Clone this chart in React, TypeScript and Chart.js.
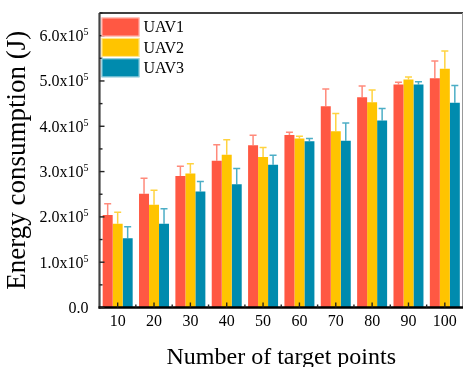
import { useEffect, useRef } from "react";
import { Chart, registerables } from "chart.js";

Chart.register(...registerables);

const categories = ["10", "20", "30", "40", "50", "60", "70", "80", "90", "100"];
const seriesNames = ["UAV1", "UAV2", "UAV3"];
const seriesColors = ["#FF5843", "#FFC400", "#008BAE"];
const errColors = ["rgba(255,88,67,0.7)", "rgba(255,196,0,0.75)", "rgba(0,139,174,0.7)"];

const uav1 = [2.04e5, 2.51e5, 2.9e5, 3.24e5, 3.58e5, 3.81e5, 4.44e5, 4.64e5, 4.92e5, 5.06e5];
const uav2 = [1.85e5, 2.27e5, 2.96e5, 3.37e5, 3.32e5, 3.73e5, 3.89e5, 4.53e5, 5.03e5, 5.27e5];
const uav3 = [1.53e5, 1.85e5, 2.56e5, 2.72e5, 3.15e5, 3.67e5, 3.68e5, 4.13e5, 4.92e5, 4.52e5];

const uav1Err = [0.25e5, 0.34e5, 0.22e5, 0.35e5, 0.22e5, 0.06e5, 0.38e5, 0.25e5, 0.05e5, 0.38e5];
const uav2Err = [0.25e5, 0.32e5, 0.21e5, 0.33e5, 0.21e5, 0.05e5, 0.39e5, 0.27e5, 0.06e5, 0.39e5];
const uav3Err = [0.25e5, 0.33e5, 0.22e5, 0.35e5, 0.21e5, 0.06e5, 0.39e5, 0.26e5, 0.06e5, 0.38e5];

const yTickValues = [0, 1e5, 2e5, 3e5, 4e5, 5e5, 6e5];
const yTickMantissas = ["0.0", "1.0", "2.0", "3.0", "4.0", "5.0", "6.0"];
const yMinorValues = [0.5e5, 1.5e5, 2.5e5, 3.5e5, 4.5e5, 5.5e5, 6.5e5];

const FONT = "'Liberation Serif', 'Times New Roman', serif";

const errors = [uav1Err, uav2Err, uav3Err];

const decorPlugin = {
  id: "decor",
  afterDatasetsDraw(chart: any) {
    const ctx = chart.ctx;
    const ys = chart.scales.y;
    ctx.save();
    chart.data.datasets.forEach((ds: any, di: number) => {
      const meta = chart.getDatasetMeta(di);
      meta.data.forEach((el: any, i: number) => {
        const v = ds.data[i];
        const e = errors[di][i];
        const yTop = ys.getPixelForValue(v + e);
        const x = el.x;
        ctx.strokeStyle = errColors[di];
        ctx.lineWidth = 1.5;
        ctx.beginPath();
        ctx.moveTo(x, el.y);
        ctx.lineTo(x, yTop);
        ctx.moveTo(x - 3.5, yTop);
        ctx.lineTo(x + 3.5, yTop);
        ctx.stroke();
      });
    });
    ctx.restore();
  },
  afterDraw(chart: any) {
    const ctx = chart.ctx;
    const { left, right, top, bottom } = chart.chartArea;
    const ys = chart.scales.y;
    const xs = chart.scales.x;
    ctx.save();
    ctx.strokeStyle = "#000";
    ctx.lineWidth = 1.3;
    ctx.beginPath();
    ctx.moveTo(left, top);
    ctx.lineTo(right, top);
    ctx.stroke();
    ctx.strokeStyle = "#999";
    ctx.lineWidth = 1;
    ctx.beginPath();
    ctx.moveTo(right - 0.5, top);
    ctx.lineTo(right - 0.5, bottom);
    ctx.stroke();
    ctx.strokeStyle = "#444";
    ctx.lineWidth = 2.2;
    ctx.beginPath();
    ctx.moveTo(left, top);
    ctx.lineTo(left, bottom + 1);
    ctx.stroke();
    ctx.strokeStyle = "#000";
    ctx.lineWidth = 2.4;
    ctx.beginPath();
    ctx.moveTo(left - 1, bottom);
    ctx.lineTo(right, bottom);
    ctx.stroke();
    ctx.strokeStyle = "#222";
    ctx.lineWidth = 1.4;
    yTickValues.forEach((v) => {
      const y = ys.getPixelForValue(v);
      ctx.beginPath();
      ctx.moveTo(left, y);
      ctx.lineTo(left + 5, y);
      ctx.stroke();
    });
    yMinorValues.forEach((v) => {
      const y = ys.getPixelForValue(v);
      ctx.beginPath();
      ctx.moveTo(left, y);
      ctx.lineTo(left + 3, y);
      ctx.stroke();
    });
    const n = categories.length;
    for (let i = 0; i < n; i++) {
      const x = xs.getPixelForValue(i);
      ctx.beginPath();
      ctx.moveTo(x, bottom);
      ctx.lineTo(x, bottom - 5);
      ctx.stroke();
      if (i > 0) {
        const xb = (xs.getPixelForValue(i - 1) + x) / 2;
        ctx.beginPath();
        ctx.moveTo(xb, bottom);
        ctx.lineTo(xb, bottom - 3);
        ctx.stroke();
      }
    }
    ctx.fillStyle = "#000";
    ctx.textBaseline = "alphabetic";
    yTickValues.forEach((v, i) => {
      const y = ys.getPixelForValue(v);
      const base = y + 5.4;
      const rightX = left - 11;
      if (v === 0) {
        ctx.font = `16px ${FONT}`;
        ctx.textAlign = "right";
        ctx.fillText(yTickMantissas[i], rightX, base);
      } else {
        ctx.font = `10px ${FONT}`;
        const supW = ctx.measureText("5").width;
        ctx.textAlign = "right";
        ctx.fillText("5", rightX, base - 6);
        ctx.font = `16px ${FONT}`;
        ctx.fillText(yTickMantissas[i] + "x10", rightX - supW, base);
      }
    });
    const boxX = left + 2;
    const boxW = 38;
    const boxH = 19;
    const step = 20.4;
    seriesNames.forEach((name, i) => {
      const by = top + 4.5 + i * step;
      ctx.fillStyle = seriesColors[i];
      ctx.fillRect(boxX, by, boxW, boxH);
      ctx.strokeStyle = "rgba(255,255,255,0.6)";
      ctx.lineWidth = 1;
      ctx.strokeRect(boxX + 0.5, by + 0.5, boxW - 1, boxH - 1);
      ctx.fillStyle = "#000";
      ctx.font = `16px ${FONT}`;
      ctx.textAlign = "left";
      ctx.textBaseline = "alphabetic";
      ctx.fillText(name, boxX + boxW + 4, by + boxH / 2 + 5.4);
    });
    ctx.restore();
  },
};

export default function App() {
  const canvasRef = useRef<HTMLCanvasElement | null>(null);

  useEffect(() => {
    document.body.style.margin = "0";
    const canvas = canvasRef.current;
    if (!canvas) return;
    const chart = new Chart(canvas, {
      type: "bar",
      data: {
        labels: categories,
        datasets: [
          { label: seriesNames[0], data: uav1, backgroundColor: seriesColors[0] },
          { label: seriesNames[1], data: uav2, backgroundColor: seriesColors[1] },
          { label: seriesNames[2], data: uav3, backgroundColor: seriesColors[2] },
        ],
      },
      options: {
        animation: false,
        responsive: false,
        maintainAspectRatio: false,
        devicePixelRatio: 1,
        layout: { padding: { top: 13, right: 1, left: 0, bottom: 0 } },
        datasets: {
          bar: { categoryPercentage: 0.825, barPercentage: 1.0, borderWidth: 0 },
        },
        plugins: {
          legend: { display: false },
          tooltip: { enabled: false },
        },
        scales: {
          x: {
            grid: { display: false, drawTicks: false, tickLength: 0 },
            border: { display: false },
            ticks: {
              color: "#000",
              font: { family: FONT, size: 16 },
              padding: 5,
              maxRotation: 0,
            },
            title: {
              display: true,
              text: "Number of target points",
              color: "#000",
              font: { family: FONT, size: 24 },
              padding: { top: 0, bottom: -5 },
            },
            afterFit: (scale: any) => {
              scale.height = 59.5;
            },
          },
          y: {
            min: 0,
            max: 6.5e5,
            grid: { display: false, drawTicks: false, tickLength: 0 },
            border: { display: false },
            ticks: { display: false, stepSize: 1e5 },
            title: {
              display: true,
              text: "Energy consumption (J)",
              color: "#000",
              font: { family: FONT, size: 27 },
              padding: { top: 2, bottom: 0 },
            },
            afterFit: (scale: any) => {
              scale.width = 99.5;
            },
          },
        },
      },
      plugins: [decorPlugin],
    });
    return () => chart.destroy();
  }, []);

  return (
    <div style={{ width: 464, height: 367 }}>
      <canvas ref={canvasRef} width={464} height={367} style={{ display: "block" }} />
    </div>
  );
}
